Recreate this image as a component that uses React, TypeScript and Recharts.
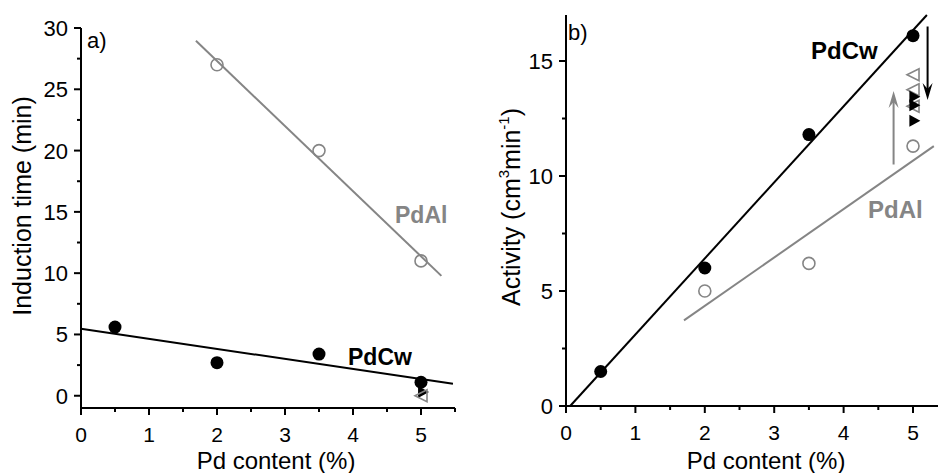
import React from "react";
import { ScatterChart, Scatter, XAxis, YAxis, ReferenceLine } from "recharts";

const FONT = "'Liberation Sans', Arial, sans-serif";
const GRAY = "#858585";

// panel a) induction time vs Pd content
const aPdCw = [{ x: 0.5, y: 5.6 }, { x: 2, y: 2.7 }, { x: 3.5, y: 3.4 }, { x: 5, y: 1.1 }];
const aPdAl = [{ x: 2, y: 27 }, { x: 3.5, y: 20 }, { x: 5, y: 11 }];
const aPdCwFit = [{ x: 0, y: 5.46 }, { x: 5.47, y: 0.98 }];
const aPdAlFit = [{ x: 1.69, y: 28.96 }, { x: 5.3, y: 9.78 }];
const aOpenTri = [{ x: 5, y: 0 }];
const aFilledTri = [{ x: 5.03, y: 0.3 }];
const aXTicks = [0, 0.5, 1, 1.5, 2, 2.5, 3, 3.5, 4, 4.5, 5, 5.5];
const aYTicks = [0, 2.5, 5, 7.5, 10, 12.5, 15, 17.5, 20, 22.5, 25, 27.5, 30];

// panel b) activity vs Pd content
const bPdCw = [{ x: 0.5, y: 1.5 }, { x: 2, y: 6.0 }, { x: 3.5, y: 11.8 }, { x: 5, y: 16.1 }];
const bPdAl = [{ x: 2, y: 5.0 }, { x: 3.5, y: 6.2 }, { x: 5, y: 11.3 }];
const bPdCwFit = [{ x: 0.06, y: 0 }, { x: 5.2, y: 17 }];
const bPdAlFit = [{ x: 1.7, y: 3.72 }, { x: 5.3, y: 11.3 }];
const bOpenTri = [{ x: 5, y: 14.4 }, { x: 5, y: 13.75 }, { x: 5, y: 13.03 }];
const bFilledTri = [{ x: 5.02, y: 13.45 }, { x: 5.02, y: 13.08 }, { x: 5.02, y: 12.4 }];
const bArrowDown = [{ x: 5.21, y: 16.5 }, { x: 5.21, y: 13.3 }];
const bArrowUp = [{ x: 4.72, y: 10.5 }, { x: 4.72, y: 13.7 }];
const bXTicks = [0, 0.5, 1, 1.5, 2, 2.5, 3, 3.5, 4, 4.5, 5];
const bYTicks = [0, 2.5, 5, 7.5, 10, 12.5, 15];

const makeTick = (axis: "x" | "y", major: number) => (props: any) => {
  const { x, y, payload } = props;
  const v = payload.value;
  const isMajor = Math.abs(v / major - Math.round(v / major)) < 1e-6;
  const len = isMajor ? 7 : 4;
  if (axis === "x") {
    return (
      <g>
        <line x1={x} y1={y} x2={x} y2={y + len} stroke="#000" strokeWidth={2} />
        {isMajor && (
          <text x={x} y={y + 34} textAnchor="middle" fontSize={21} fontFamily={FONT} fill="#000">{v}</text>
        )}
      </g>
    );
  }
  return (
    <g>
      <line x1={x} y1={y} x2={x - len} y2={y} stroke="#000" strokeWidth={2} />
      {isMajor && (
        <text x={x - 13} y={y + 8} textAnchor="end" fontSize={22} fontFamily={FONT} fill="#000">{v}</text>
      )}
    </g>
  );
};

const filledCircle = (p: any) => <circle cx={p.cx} cy={p.cy} r={6.5} fill="#000" />;
const openCircle = (p: any) => <circle cx={p.cx} cy={p.cy} r={6} fill="none" stroke={GRAY} strokeWidth={1.6} />;
const openTriLeft = (p: any) => (
  <polygon points={`${p.cx - 6},${p.cy} ${p.cx + 6},${p.cy - 6} ${p.cx + 6},${p.cy + 6}`} fill="none" stroke={GRAY} strokeWidth={1.6} />
);
const filledTriRight = (p: any) => (
  <polygon points={`${p.cx + 6},${p.cy} ${p.cx - 5},${p.cy - 6} ${p.cx - 5},${p.cy + 6}`} fill="#000" />
);
const noDot = () => <g />;

const arrowShape = (color: string) => (props: any) => {
  const { x1, y1, x2, y2 } = props;
  const d = Math.sign(y2 - y1);
  return (
    <g>
      <line x1={x1} y1={y1} x2={x2} y2={y2 - d * 8} stroke={color} strokeWidth={2} />
      <polygon points={`${x2},${y2} ${x2 - 5},${y2 - d * 17} ${x2},${y2 - d * 11} ${x2 + 5},${y2 - d * 17}`} fill={color} />
    </g>
  );
};

const axisLine = { stroke: "#000", strokeWidth: 2 };
const labelStyle = { fontFamily: FONT, fill: "#000" };

export default function App() {
  return (
    <div style={{ position: "absolute", left: 0, top: 0, width: 939, height: 473, background: "#fff", overflow: "hidden" }}>
      <div style={{ position: "absolute", left: 0, top: 0 }}>
        <ScatterChart width={470} height={473} margin={{ top: 28, right: 15, bottom: 5, left: 0 }}>
          <XAxis type="number" dataKey="x" domain={[0, 5.5]} ticks={aXTicks} interval={0} height={60}
            axisLine={axisLine} tickLine={false} tickSize={0} tickMargin={0} tick={makeTick("x", 1)} />
          <YAxis type="number" dataKey="y" domain={[-1, 30]} ticks={aYTicks} interval={0} width={81}
            axisLine={axisLine} tickLine={false} tickSize={0} tickMargin={0} tick={makeTick("y", 5)} />
          <Scatter data={aPdAlFit} fill={GRAY} line={{ stroke: GRAY, strokeWidth: 2 }} shape={noDot} isAnimationActive={false} />
          <Scatter data={aPdCwFit} fill="#000" line={{ stroke: "#000", strokeWidth: 2 }} shape={noDot} isAnimationActive={false} />
          <Scatter data={aFilledTri} shape={filledTriRight} isAnimationActive={false} />
          <Scatter data={aOpenTri} shape={openTriLeft} isAnimationActive={false} />
          <Scatter data={aPdAl} shape={openCircle} isAnimationActive={false} />
          <Scatter data={aPdCw} shape={filledCircle} isAnimationActive={false} />
          <text x={87} y={48} fontSize={22} style={labelStyle}>a)</text>
          <text x={395} y={223} fontSize={23} fontWeight="bold" fontFamily={FONT} fill={GRAY}>PdAl</text>
          <text x={348} y={365} fontSize={23} fontWeight="bold" fontFamily={FONT} fill="#000">PdCw</text>
          <text x={276} y={469} fontSize={24} textAnchor="middle" style={labelStyle}>Pd content (%)</text>
          <text transform="translate(31,206) rotate(-90)" fontSize={25} textAnchor="middle" style={labelStyle}>Induction time (min)</text>
        </ScatterChart>
      </div>
      <div style={{ position: "absolute", left: 470, top: 0 }}>
        <ScatterChart width={469} height={473} margin={{ top: 15, right: 1, bottom: 7, left: 0 }}>
          <XAxis type="number" dataKey="x" domain={[0, 5.36]} ticks={bXTicks} interval={0} height={60}
            axisLine={axisLine} tickLine={false} tickSize={0} tickMargin={0} tick={makeTick("x", 1)} />
          <YAxis type="number" dataKey="y" domain={[0, 17]} ticks={bYTicks} interval={0} width={96}
            axisLine={axisLine} tickLine={false} tickSize={0} tickMargin={0} tick={makeTick("y", 5)} />
          <Scatter data={bPdAlFit} fill={GRAY} line={{ stroke: GRAY, strokeWidth: 2 }} shape={noDot} isAnimationActive={false} />
          <Scatter data={bPdCwFit} fill="#000" line={{ stroke: "#000", strokeWidth: 2 }} shape={noDot} isAnimationActive={false} />
          <ReferenceLine segment={bArrowUp} shape={arrowShape(GRAY)} />
          <ReferenceLine segment={bArrowDown} shape={arrowShape("#000")} />
          <Scatter data={bOpenTri} shape={openTriLeft} isAnimationActive={false} />
          <Scatter data={bFilledTri} shape={filledTriRight} isAnimationActive={false} />
          <Scatter data={bPdAl} shape={openCircle} isAnimationActive={false} />
          <Scatter data={bPdCw} shape={filledCircle} isAnimationActive={false} />
          <text x={98} y={40} fontSize={22} style={labelStyle}>b)</text>
          <text x={341} y={59} fontSize={24} fontWeight="bold" fontFamily={FONT} fill="#000">PdCw</text>
          <text x={398} y={218} fontSize={24} fontWeight="bold" fontFamily={FONT} fill={GRAY}>PdAl</text>
          <text x={296} y={469} fontSize={24} textAnchor="middle" style={labelStyle}>Pd content (%)</text>
          <text transform="translate(50,207) rotate(-90)" fontSize={25} textAnchor="middle" style={labelStyle}>
            Activity (cm<tspan fontSize={15} dy={-11}>3</tspan><tspan dy={11}>min</tspan><tspan fontSize={15} dy={-11}>-1</tspan><tspan dy={11}>)</tspan>
          </text>
        </ScatterChart>
      </div>
    </div>
  );
}
